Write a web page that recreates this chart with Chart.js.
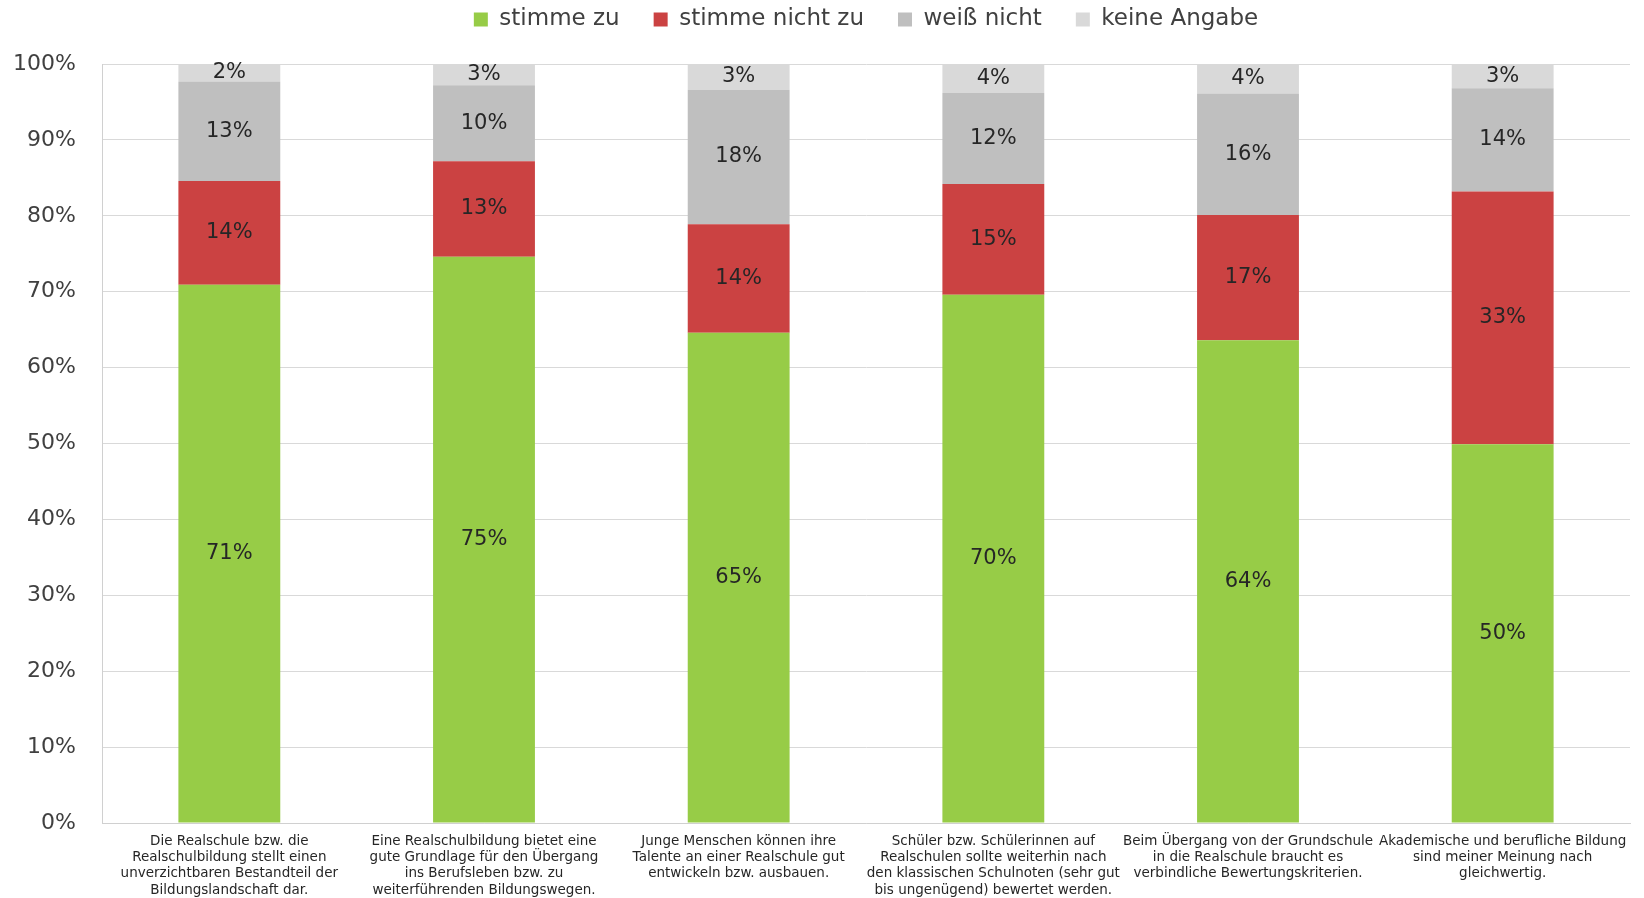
<!DOCTYPE html>
<html>
<head>
<meta charset="utf-8">
<script src="https://cdn.jsdelivr.net/npm/chart.js@4.4.1/dist/chart.umd.min.js"></script>
<style>
  html, body { margin: 0; padding: 0; background: #ffffff; }
  #wrap { width: 1644px; height: 898px; position: relative; }
</style>
</head>
<body>
<div id="wrap"><canvas id="c"></canvas></div>
<script>
const categories = [
  ["Die Realschule bzw. die", "Realschulbildung stellt einen", "unverzichtbaren Bestandteil der", "Bildungslandschaft dar."],
  ["Eine Realschulbildung bietet eine", "gute Grundlage für den Übergang", "ins Berufsleben bzw. zu", "weiterführenden Bildungswegen."],
  ["Junge Menschen können ihre", "Talente an einer Realschule gut", "entwickeln bzw. ausbauen."],
  ["Schüler bzw. Schülerinnen auf", "Realschulen sollte weiterhin nach", "den klassischen Schulnoten (sehr gut", "bis ungenügend) bewertet werden."],
  ["Beim Übergang von der Grundschule", "in die Realschule braucht es", "verbindliche Bewertungskriterien."],
  ["Akademische und berufliche Bildung", "sind meiner Meinung nach", "gleichwertig."]
];
const seriesNames = ["stimme zu", "stimme nicht zu", "weiß nicht", "keine Angabe"];
const stimmeZu      = [70.9, 74.6, 64.6, 69.6, 63.6, 49.9];
const stimmeNichtZu = [13.7, 12.6, 14.3, 14.6, 16.5, 33.3];
const weissNicht    = [13.1, 10.0, 17.7, 12.0, 16.0, 13.6];
const keineAngabe   = [2.3, 2.8, 3.4, 3.8, 3.9, 3.2];
const yTicks = [0, 10, 20, 30, 40, 50, 60, 70, 80, 90, 100];

const colors = ["#97cc47", "#cb4242", "#bfbfbf", "#d9d9d9"];
const seriesValues = [stimmeZu, stimmeNichtZu, weissNicht, keineAngabe];

const segLabels = {
  id: 'segLabels',
  afterDatasetsDraw(chart) {
    const ctx = chart.ctx;
    ctx.save();
    ctx.font = '21px "DejaVu Sans"';
    ctx.fillStyle = '#262626';
    ctx.textAlign = 'center';
    ctx.textBaseline = 'middle';
    chart.data.datasets.forEach((ds, i) => {
      const meta = chart.getDatasetMeta(i);
      meta.data.forEach((bar, j) => {
        const p = bar.getProps(['x', 'y', 'base'], true);
        ctx.fillText(Math.round(ds.data[j]) + '%', p.x, (p.y + p.base) / 2);
      });
    });
    ctx.restore();
  }
};

const legendPlace = {
  id: 'legendPlace',
  beforeLayout(chart) {
    const lg = chart.legend;
    if (lg && !lg._patchedFit) {
      const orig = lg.fit;
      lg.fit = function () {
        orig.call(this);
        this.height = 64;
      };
      lg._patchedFit = true;
    }
  },
  afterLayout(chart) {
    const lg = chart.legend;
    if (!lg) return;
    lg.left = chart.chartArea.left;
    lg.right = chart.chartArea.right;
    lg.top = -26;
  }
};

new Chart(document.getElementById('c'), {
  type: 'bar',
  data: {
    labels: categories,
    datasets: seriesValues.map((vals, i) => ({
      label: seriesNames[i],
      data: vals,
      backgroundColor: colors[i],
      borderWidth: 0,
      barPercentage: 0.4,
      categoryPercentage: 1.0
    }))
  },
  options: {
    responsive: true,
    maintainAspectRatio: false,
    animation: false,
    layout: { padding: { left: 0, right: 14, top: 0, bottom: 0 } },
    plugins: {
      tooltip: { enabled: false },
      legend: {
        position: 'top',
        labels: {
          boxWidth: 14,
          boxHeight: 14,
          padding: 34,
          color: '#404040',
          font: { family: 'DejaVu Sans', size: 23 }
        }
      }
    },
    scales: {
      x: {
        stacked: true,
        grid: { display: false, drawTicks: false },
        border: { display: true, color: '#d0d0d0', width: 1 },
        ticks: {
          color: '#262626',
          padding: 10,
          maxRotation: 0,
          autoSkip: false,
          font: { family: 'DejaVu Sans', size: 13.5, lineHeight: 1.21 }
        },
        afterFit(scale) { scale.height = 75; }
      },
      y: {
        stacked: true,
        min: 0,
        max: 100,
        afterBuildTicks(scale) { scale.ticks = yTicks.map(v => ({ value: v })); },
        grid: { color: '#d9d9d9', lineWidth: 1, drawTicks: false },
        border: { display: true, color: '#d0d0d0', width: 1 },
        ticks: {
          color: '#404040',
          padding: 26,
          font: { family: 'DejaVu Sans', size: 22 },
          callback: (v) => v + '%'
        },
        afterFit(scale) { scale.width = 102; }
      }
    }
  },
  plugins: [segLabels, legendPlace]
});
</script>
</body>
</html>
